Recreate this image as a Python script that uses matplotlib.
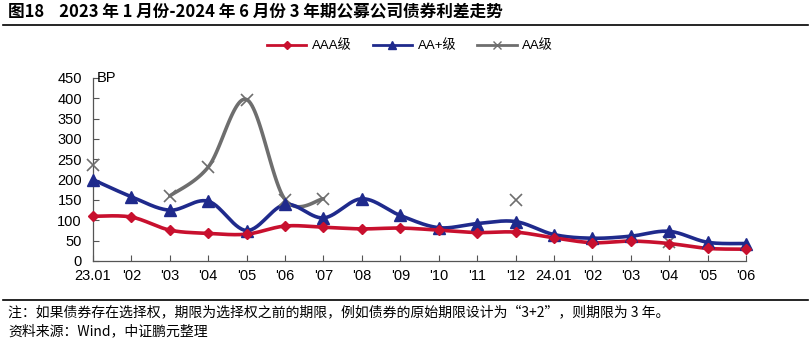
import numpy as np
import matplotlib.pyplot as plt
from matplotlib.lines import Line2D

plt.rcParams['font.family'] = ['Liberation Sans', 'Noto Sans CJK SC', 'DejaVu Sans']

labels = ['23.01', "'02", "'03", "'04", "'05", "'06", "'07", "'08", "'09",
          "'10", "'11", "'12", '24.01', "'02", "'03", "'04", "'05", "'06"]
aaa = [110, 108, 76, 68, 66, 86, 83, 79, 81, 76, 70, 71, 57, 45, 49, 43, 31, 29]
aa_plus = [200, 158, 125, 147, 75, 139, 106, 153, 112, 82, 92, 97, 65, 56, 61, 73, 46, 43]
aa = [237, np.nan, 160, 231, 397, 151, 153, np.nan, np.nan, np.nan, np.nan, 151,
      np.nan, np.nan, np.nan, 47, np.nan, np.nan]

c_red = '#C8102E'
c_blue = '#1F2A8C'
c_gray = '#6E6E6E'


def smooth(x, y, n=30):
    # excel-like smoothing (bezier with catmull-rom control points)
    x = np.asarray(x, float)
    y = np.asarray(y, float)
    if len(x) < 2:
        return x, y
    px = np.concatenate([[x[0]], x, [x[-1]]])
    py = np.concatenate([[y[0]], y, [y[-1]]])
    xs, ys = [], []
    t = np.linspace(0, 1, n)
    for i in range(1, len(px) - 2):
        p0 = np.array([px[i], py[i]])
        p3 = np.array([px[i + 1], py[i + 1]])
        c1 = p0 + (np.array([px[i + 1], py[i + 1]]) - np.array([px[i - 1], py[i - 1]])) / 6
        c2 = p3 - (np.array([px[i + 2], py[i + 2]]) - np.array([px[i], py[i]])) / 6
        b = ((1 - t) ** 3)[:, None] * p0 + (3 * (1 - t) ** 2 * t)[:, None] * c1 \
            + (3 * (1 - t) * t ** 2)[:, None] * c2 + (t ** 3)[:, None] * p3
        xs.append(b[:, 0])
        ys.append(b[:, 1])
    return np.concatenate(xs), np.concatenate(ys)


def draw(ax, y, color, marker, ms, mew=1):
    y = np.asarray(y, float)
    x = np.arange(len(y))
    ok = ~np.isnan(y)
    # split into runs of consecutive points
    runs, cur = [], []
    for i in range(len(y)):
        if ok[i]:
            cur.append(i)
        else:
            if cur:
                runs.append(cur)
            cur = []
    if cur:
        runs.append(cur)
    for r in runs:
        if len(r) > 1:
            sx, sy = smooth(x[r], y[r])
            ax.plot(sx, sy, color=color, lw=2.6, solid_capstyle='round', zorder=2, clip_on=False)
    ax.plot(x[ok], y[ok], ls='none', marker=marker, ms=ms, color=color,
            mec=color, mew=mew, zorder=3, clip_on=False)


fig = plt.figure(figsize=(8.11, 3.45), dpi=100)
ax = fig.add_axes([93 / 811, 1 - 261 / 345, (746 - 93) / 811, (261 - 78) / 345])

draw(ax, aa, c_gray, 'x', 9, mew=1.2)
draw(ax, aa_plus, c_blue, '^', 8)
draw(ax, aaa, c_red, 'D', 5)

ax.set_xlim(0, len(labels) - 1)
ax.set_ylim(0, 450)
ax.set_yticks(np.arange(0, 451, 50))
ax.set_xticks(np.arange(len(labels)))
ax.set_xticklabels(labels)
ax.tick_params(direction='in', length=4, width=0.8, color='#555555', labelsize=10.5)
ax.tick_params(axis='x', pad=6)
ax.tick_params(axis='y', pad=8)
for s in ['top', 'right']:
    ax.spines[s].set_visible(False)
for s in ['left', 'bottom']:
    ax.spines[s].set_color('#555555')
    ax.spines[s].set_linewidth(0.9)
ax.text(0.1, 450, 'BP', fontsize=10.5, va='center', ha='left')

handles = [Line2D([], [], color=c_red, lw=2, marker='D', ms=4),
           Line2D([], [], color=c_blue, lw=2, marker='^', ms=6),
           Line2D([], [], color=c_gray, lw=2, marker='x', ms=6)]
fig.legend(handles, ['AAA级', 'AA+级', 'AA级'], loc='center', bbox_to_anchor=(410 / 811, 1 - 46 / 345),
           ncol=3, frameon=False, fontsize=9.5, handlelength=3, columnspacing=1.6, handletextpad=0.4)

fig.text(8 / 811, 1 - 12 / 345, '图18    2023 年 1 月份-2024 年 6 月份 3 年期公募公司债券利差走势',
         fontsize=12, fontweight='bold', va='center', ha='left',
         family=['Noto Sans CJK SC', 'DejaVu Sans'])
fig.add_artist(Line2D([3 / 811, 808 / 811], [1 - 25 / 345, 1 - 25 / 345], color='black', lw=1.2))
fig.add_artist(Line2D([3 / 811, 808 / 811], [1 - 300 / 345, 1 - 300 / 345], color='black', lw=1.2))
fig.text(8 / 811, 1 - 312 / 345, '注：如果债券存在选择权，期限为选择权之前的期限，例如债券的原始期限设计为“3+2”，则期限为 3 年。',
         fontsize=10, va='center', ha='left', family=['Noto Sans CJK SC', 'DejaVu Sans'])
fig.text(8 / 811, 1 - 331 / 345, '资料来源：Wind，中证鹏元整理',
         fontsize=10, va='center', ha='left', family=['Noto Sans CJK SC', 'DejaVu Sans'])

fig.savefig('out.png', dpi=100)
